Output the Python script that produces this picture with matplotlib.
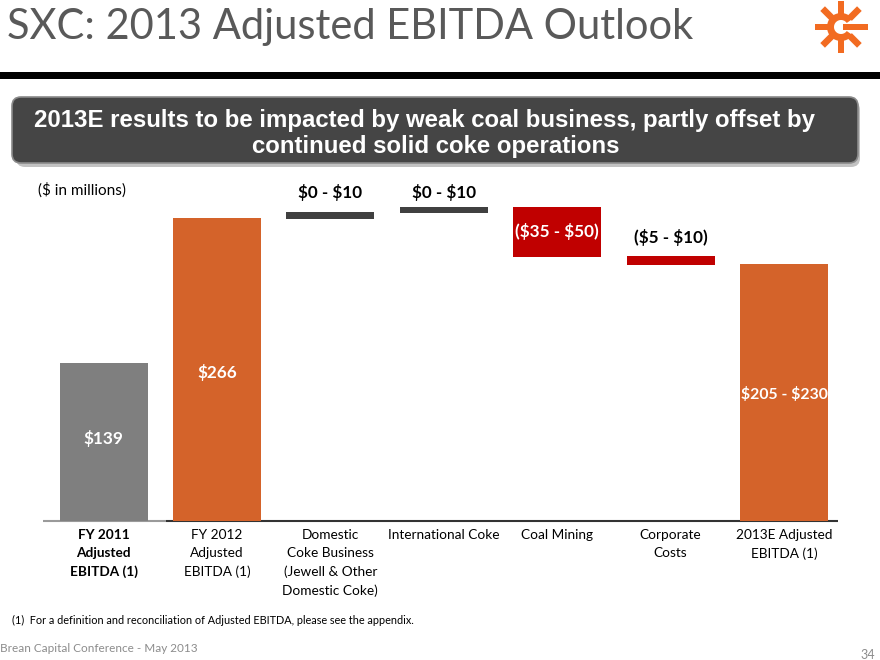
import matplotlib
matplotlib.use("Agg")
import matplotlib.pyplot as plt
from matplotlib.patches import FancyBboxPatch, Rectangle, Wedge, Polygon
import numpy as np

plt.rcParams["text.parse_math"] = False

# ---------------- data ----------------
categories = ["FY 2011\nAdjusted\nEBITDA (1)",
              "FY 2012\nAdjusted\nEBITDA (1)",
              "Domestic\nCoke Business\n(Jewell & Other\nDomestic Coke)",
              "International Coke",
              "Coal Mining",
              "Corporate\nCosts",
              "2013E Adjusted\nEBITDA (1)"]
bar_bottom = [0, 0, 265, 270, 232, 225, 0]
bar_top = [139, 266, 271, 276, 276, 233, 226]
value_labels = ["$139", "$266", "$0 - $10", "$0 - $10", "($35 - $50)", "($5 - $10)", "$205 - $230"]
bar_colors = ["#7F7F7F", "#D4632A", "#404040", "#404040", "#C00000", "#C00000", "#D4632A"]

title = "SXC: 2013 Adjusted EBITDA Outlook"
banner_lines = ["2013E results to be impacted by weak coal business, partly offset by",
                "continued solid coke operations"]
units = "($ in millions)"
footnote = "(1)  For a definition and reconciliation of Adjusted EBITDA, please see the appendix."
footer = "Brean Capital Conference - May 2013"
page = "34"

FONT = "Lato"
W, H = 880, 660
fig = plt.figure(figsize=(W / 100, H / 100), dpi=100)

# overlay in pixel coordinates
ov = fig.add_axes([0, 0, 1, 1])
ov.set_xlim(0, W)
ov.set_ylim(H, 0)
ov.axis("off")
ov.set_zorder(0)

# title
ov.text(7, 27, title, fontsize=30, family=FONT, color="#595959", va="center", ha="left")
# black rule
ov.add_patch(Rectangle((0, 72), W, 7, color="black", lw=0))

# logo
cx, cy = 841, 27
lc = "#F26B21"
ov.add_patch(Wedge((cx, cy), 14, 35, 325, width=7, color=lc, lw=0))
for ang in [90, 135, 180, 225, 270, 315, 45]:
    a = np.deg2rad(ang)
    r0, r1 = 12, 26
    dx, dy = np.cos(a), -np.sin(a)
    px, py = -dy * 3.3, dx * 3.3
    pts = [(cx + dx * r0 + px, cy + dy * r0 + py), (cx + dx * r1 + px, cy + dy * r1 + py),
           (cx + dx * r1 - px, cy + dy * r1 - py), (cx + dx * r0 - px, cy + dy * r0 - py)]
    ov.add_patch(Polygon(pts, closed=True, color=lc, lw=0))
ov.add_patch(Rectangle((cx + 2, cy - 3.3), 25, 6.6, color=lc, lw=0))

# banner
ov.add_patch(FancyBboxPatch((16, 101), 844, 66, boxstyle="round,pad=0,rounding_size=9",
                            fc="#9a9a9a", ec="none", alpha=0.6))
ov.add_patch(FancyBboxPatch((12, 97), 846, 66, boxstyle="round,pad=0,rounding_size=9",
                            fc="#454545", ec="#8a8a8a", lw=1.2))
for (bx, by), line in zip([(425, 120), (436, 146)], banner_lines):
    ov.text(bx, by, line, fontsize=17.3, family="Liberation Sans", weight="bold",
            color="white", ha="center", va="center")

# units
ov.text(38, 190, units, fontsize=11, family=FONT, color="black", va="center", ha="left")

# baseline
ov.plot([43, 166], [521, 521], color="#9a9a9a", lw=1.5, solid_capstyle="butt")
ov.plot([166, 838], [521, 521], color="#333333", lw=1.5, solid_capstyle="butt")

# footnotes
ov.text(12, 620, footnote, fontsize=7.8, family=FONT, color="black", va="center", ha="left")
ov.text(0, 649, footer, fontsize=8.5, family=FONT, color="#8c8c8c", va="center", ha="left")
ov.text(875, 655, page, fontsize=9, family=FONT, color="#8c8c8c", va="center", ha="right")

# ---------------- chart ----------------
scale = 303 / 266.0  # px per unit
y_top_px, y_base_px = 180, 521
x_left_px, x_right_px = 43, 838
ax = fig.add_axes([x_left_px / W, (H - y_base_px) / H,
                   (x_right_px - x_left_px) / W, (y_base_px - y_top_px) / H])
ax.set_zorder(1)
ax.patch.set_alpha(0)
spacing = (784 - 103.5) / 6
ax.set_xlim((x_left_px - 103.5) / spacing, 6 + (x_right_px - 784) / spacing)
ax.set_ylim(0, (y_base_px - y_top_px) / scale)
x = np.arange(len(categories))
heights = [t - b for t, b in zip(bar_top, bar_bottom)]
ax.bar(x, heights, bottom=bar_bottom, width=88 / spacing, color=bar_colors, lw=0)
for s in ax.spines.values():
    s.set_visible(False)
ax.set_yticks([])
ax.set_xticks([])

# category labels
for i, c in enumerate(categories):
    ax.annotate(c, xy=(i, 0), xytext=(0, -8), textcoords="offset pixels",
                ha="center", va="top", fontsize=9.8, family=FONT,
                weight="bold" if i == 0 else "normal", linespacing=1.6,
                annotation_clip=False)

# value labels
inside_frac = {0: 0.52, 1: 0.49, 6: 0.49}
lab_kw = dict(ha="center", va="center", family=FONT, weight="bold")
for i, lab in enumerate(value_labels):
    fs = 11.3 if i == 6 else 12.3
    if i in inside_frac:
        ax.text(i, bar_top[i] * inside_frac[i], lab, color="white", fontsize=fs, **lab_kw)
    elif i == 4:
        ax.text(i, (bar_top[i] + bar_bottom[i]) / 2, lab, color="white", fontsize=fs, **lab_kw)
    elif i in (2, 3):
        ax.text(i, 288, lab, color="black", fontsize=fs, **lab_kw)
    else:
        ax.annotate(lab, xy=(i, bar_top[i]), xytext=(0, 18), textcoords="offset pixels",
                    color="black", fontsize=fs, **lab_kw)

fig.savefig("out.png", dpi=100)
